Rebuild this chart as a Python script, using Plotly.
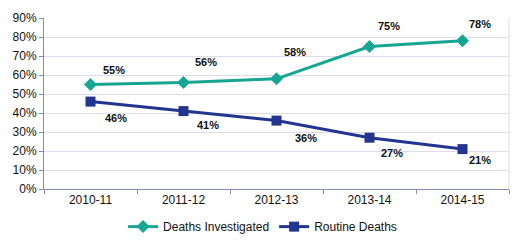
import plotly.graph_objects as go

years = ["2010-11", "2011-12", "2012-13", "2013-14", "2014-15"]
investigated = [55, 56, 58, 75, 78]
routine = [46, 41, 36, 27, 21]
ytick_vals = [0, 10, 20, 30, 40, 50, 60, 70, 80, 90]
ytick_text = [f"{v}%" for v in ytick_vals]

# label offsets (pixels) for data labels
inv_dx = [23, 22, 18, 19, 17]
inv_dy = [15, 21, 27, 21, 17]
rou_dx = [25, 24, 29, 22, 17]
rou_dy = [-16, -14, -17, -15, -11]

teal = "#17A593"
navy = "#233591"

fig = go.Figure()
fig.add_trace(go.Scatter(x=years, y=investigated, mode="lines+markers", name="Deaths Investigated",
                         line=dict(color=teal, width=3), marker=dict(symbol="diamond", size=10, color=teal)))
fig.add_trace(go.Scatter(x=years, y=routine, mode="lines+markers", name="Routine Deaths",
                         line=dict(color=navy, width=3), marker=dict(symbol="square", size=10, color=navy)))

for x, y, dx, dy in zip(years, investigated, inv_dx, inv_dy):
    fig.add_annotation(x=x, y=y, text=f"<b>{y}%</b>", showarrow=False, xshift=dx, yshift=dy,
                       font=dict(family="Liberation Sans, Arial", size=11, color="#111111"))
for x, y, dx, dy in zip(years, routine, rou_dx, rou_dy):
    fig.add_annotation(x=x, y=y, text=f"<b>{y}%</b>", showarrow=False, xshift=dx, yshift=dy,
                       font=dict(family="Liberation Sans, Arial", size=11, color="#111111"))

fig.update_layout(
    width=518, height=241,
    margin=dict(l=44, r=9, t=18, b=52, autoexpand=False),
    paper_bgcolor="white", plot_bgcolor="white",
    font=dict(family="Liberation Sans, Arial", size=12, color="#111111"),
    showlegend=True,
    legend=dict(orientation="h", x=0.47, xanchor="center", y=-0.22, yanchor="middle",
                font=dict(size=12), itemwidth=30, tracegroupgap=0),
)
fig.update_xaxes(type="category", tickson="boundaries", ticks="outside", ticklen=4,
                 tickcolor="#8888B8", showline=True, linecolor="#8888B8", linewidth=1,
                 showgrid=False, mirror=False, range=[-0.5, 4.5], automargin=False)
fig.update_yaxes(range=[0, 90], tickvals=ytick_vals, ticktext=ytick_text, ticks="outside", ticklen=4,
                 tickcolor="#8888B8", showline=True, linecolor="#8888B8", linewidth=1,
                 showgrid=True, gridcolor="#DCDCEE", gridwidth=1, zeroline=False, automargin=False)
fig.add_shape(type="line", xref="paper", yref="paper", x0=1, x1=1, y0=0, y1=1,
              line=dict(color="#DCDCEE", width=1))

fig.write_html("out.html")
